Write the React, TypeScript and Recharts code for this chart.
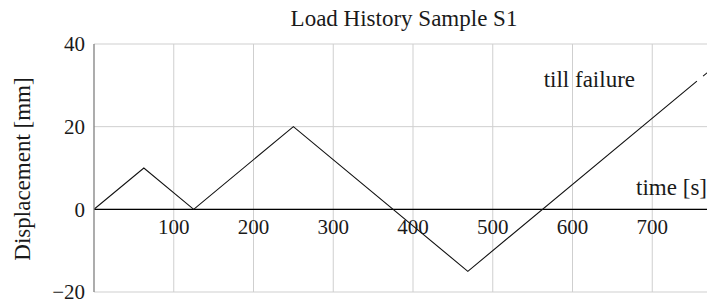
import {
  LineChart,
  Line,
  XAxis,
  YAxis,
  CartesianGrid,
  ReferenceLine,
  ReferenceDot,
} from "recharts";

// load history: time [s] vs displacement [mm]
const timeS = [0, 62.5, 125, 250, 468.75, 756];
const dispMm = [0, 10, 0, 20, -15, 31];
// continuation towards failure (dashed)
const failTimeS = [756, 800];
const failDispMm = [31, 38];

const xTicks = [100, 200, 300, 400, 500, 600, 700];
const yTicks = [-20, 0, 20, 40];

const loadData = timeS.map((t, i) => ({ t, v: dispMm[i] }));
const failData = failTimeS.map((t, i) => ({ t, v: failDispMm[i] }));

const FONT = "'Liberation Serif', serif";
const INK = "#1a1a1a";
const GRID = "#cfcfcf";

export default function App() {
  return (
    <div
      style={{
        position: "absolute",
        left: 0,
        top: 0,
        width: 707,
        height: 300,
        overflow: "hidden",
        background: "#fff",
      }}
    >
      <LineChart
        width={732}
        height={300}
        margin={{ top: 44, right: 0, left: 0, bottom: 8 }}
      >
        <CartesianGrid stroke={GRID} strokeWidth={1} vertical={false} />
        <XAxis
          dataKey="t"
          type="number"
          domain={[0, 800]}
          ticks={xTicks}
          allowDataOverflow
          height={0}
          tick={false}
          tickLine={false}
          axisLine={false}
        />
        <YAxis
          type="number"
          domain={[-20, 40]}
          ticks={yTicks}
          interval={0}
          width={94}
          axisLine={{ stroke: "#808080", strokeWidth: 1.3 }}
          tickLine={false}
          tickSize={6}
          tickMargin={3}
          tick={{ fill: INK, fontSize: 21, fontFamily: FONT }}
          tickFormatter={(v: number) => (v < 0 ? `\u2212${Math.abs(v)}` : `${v}`)}
        />
        {xTicks.map((t) => (
          <ReferenceLine key={`g${t}`} x={t} stroke={GRID} strokeWidth={1} />
        ))}
        <ReferenceLine y={0} stroke="#000" strokeWidth={1.3} />
        {xTicks.map((t) => (
          <ReferenceDot
            key={t}
            x={t}
            y={0}
            r={0}
            fill="none"
            stroke="none"
            label={{
              value: `${t}`,
              position: "bottom",
              offset: 10,
              fill: INK,
              fontSize: 21,
              fontFamily: FONT,
            }}
          />
        ))}
        <Line
          data={loadData}
          dataKey="v"
          stroke="#111"
          strokeWidth={1.1}
          dot={false}
          isAnimationActive={false}
        />
        <Line
          data={failData}
          dataKey="v"
          stroke="#111"
          strokeWidth={1.1}
          strokeDasharray="0 8 8 4"
          dot={false}
          isAnimationActive={false}
        />
      </LineChart>
      <svg
        width={707}
        height={300}
        style={{ position: "absolute", left: 0, top: 0, pointerEvents: "none" }}
      >
        <text x={404} y={26} textAnchor="middle" fontSize={23} fontFamily={FONT} fill={INK}>
          Load History Sample S1
        </text>
        <text
          x={30}
          y={169}
          textAnchor="middle"
          fontSize={23}
          fontFamily={FONT}
          fill={INK}
          transform="rotate(-90 30 169)"
        >
          Displacement [mm]
        </text>
        <text x={635} y={87} textAnchor="end" fontSize={23} fontFamily={FONT} fill={INK}>
          till failure
        </text>
        <text x={707} y={195} textAnchor="end" fontSize={23} fontFamily={FONT} fill={INK}>
          time [s]
        </text>
      </svg>
    </div>
  );
}
